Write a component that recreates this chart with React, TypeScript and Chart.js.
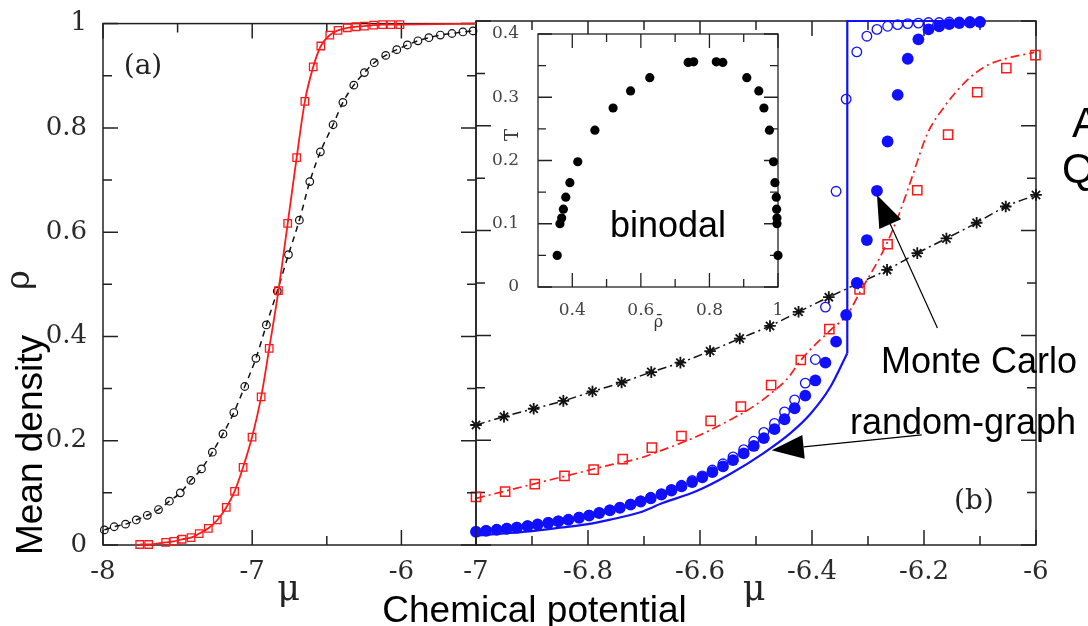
import React, { useEffect, useRef } from "react";
import { Chart, registerables } from "chart.js";

Chart.register(...registerables);

const W = 1088;
const H = 626;

// ---------- Panel (a) ----------
const aSquareMu = [-7.754, -7.694, -7.58, -7.525, -7.47, -7.41, -7.355, -7.294, -7.234, -7.174, -7.118, -7.061, -7.001, -6.94, -6.886, -6.824, -6.762, -6.702, -6.647, -6.591, -6.54, -6.48, -6.425, -6.363, -6.305, -6.248, -6.186, -6.126, -6.07, -6.01];
const aSquareRho = [0.001, 0.001, 0.005, 0.007, 0.011, 0.014, 0.022, 0.032, 0.048, 0.072, 0.103, 0.149, 0.207, 0.284, 0.377, 0.488, 0.617, 0.743, 0.851, 0.917, 0.957, 0.978, 0.987, 0.992, 0.994, 0.995, 0.997, 0.998, 0.998, 0.998];
const aLineExtMu = [-6.01, -5.5];
const aLineExtRho = [0.998, 1.0];
const aCircleMu = [-7.991, -7.925, -7.849, -7.777, -7.703, -7.628, -7.555, -7.482, -7.411, -7.34, -7.267, -7.196, -7.123, -7.05, -6.975, -6.905, -6.832, -6.757, -6.684, -6.614, -6.543, -6.458, -6.392, -6.319, -6.248, -6.182, -6.105, -6.031, -5.96, -5.889, -5.816, -5.739, -5.661, -5.588, -5.52];
const aCircleRho = [0.029, 0.035, 0.04, 0.048, 0.057, 0.068, 0.084, 0.1, 0.124, 0.146, 0.178, 0.213, 0.254, 0.304, 0.358, 0.422, 0.487, 0.557, 0.623, 0.697, 0.754, 0.806, 0.849, 0.882, 0.906, 0.925, 0.939, 0.95, 0.959, 0.967, 0.973, 0.978, 0.981, 0.984, 0.986];

// ---------- Panel (b) ----------
const bStarMu = [-7.0, -6.95, -6.897, -6.844, -6.792, -6.74, -6.687, -6.635, -6.582, -6.529, -6.475, -6.424, -6.37, -6.318, -6.266, -6.212, -6.16, -6.106, -6.054, -6.0];
const bStarRho = [0.229, 0.245, 0.26, 0.275, 0.293, 0.31, 0.33, 0.348, 0.37, 0.394, 0.418, 0.445, 0.473, 0.499, 0.525, 0.557, 0.585, 0.615, 0.646, 0.668];
const bSquareMu = [-7.0, -6.948, -6.895, -6.842, -6.79, -6.738, -6.686, -6.633, -6.581, -6.527, -6.473, -6.42, -6.369, -6.315, -6.265, -6.212, -6.157, -6.105, -6.053, -6.001];
const bSquareRho = [0.092, 0.102, 0.116, 0.132, 0.144, 0.164, 0.186, 0.208, 0.237, 0.264, 0.305, 0.353, 0.412, 0.488, 0.574, 0.677, 0.783, 0.864, 0.91, 0.935];
const bRedLineMu = [-7.0, -6.94, -6.88, -6.82, -6.76, -6.71, -6.675, -6.606, -6.553, -6.505, -6.469, -6.446, -6.415, -6.367, -6.337, -6.312, -6.272, -6.245, -6.221, -6.194, -6.164, -6.14, -6.116, -6.086, -6.051, -6.003];
const bRedLineRho = [0.089, 0.105, 0.121, 0.137, 0.153, 0.165, 0.178, 0.207, 0.235, 0.264, 0.293, 0.315, 0.359, 0.41, 0.44, 0.487, 0.563, 0.63, 0.703, 0.785, 0.836, 0.868, 0.894, 0.916, 0.929, 0.94];
const bBlueMu = [-7.0, -6.982, -6.963, -6.945, -6.927, -6.908, -6.89, -6.871, -6.853, -6.835, -6.816, -6.798, -6.78, -6.761, -6.743, -6.724, -6.706, -6.688, -6.669, -6.651, -6.633, -6.614, -6.596, -6.578, -6.559, -6.541, -6.522, -6.504, -6.486, -6.467, -6.449, -6.431, -6.412, -6.394, -6.376, -6.357, -6.339, -6.32, -6.302, -6.284, -6.265, -6.247, -6.229, -6.21, -6.192, -6.173, -6.155, -6.137, -6.118, -6.1];
const bBlueFilledRho = [0.025, 0.027, 0.029, 0.031, 0.033, 0.036, 0.039, 0.042, 0.045, 0.048, 0.052, 0.056, 0.061, 0.066, 0.071, 0.077, 0.083, 0.089, 0.096, 0.104, 0.112, 0.12, 0.129, 0.139, 0.15, 0.162, 0.175, 0.189, 0.204, 0.221, 0.24, 0.261, 0.285, 0.314, 0.348, 0.388, 0.439, 0.5, 0.582, 0.676, 0.77, 0.859, 0.928, 0.965, 0.984, 0.99, 0.994, 0.996, 0.997, 0.998];
const bBlueOpenRho = [0.026, 0.028, 0.03, 0.032, 0.034, 0.037, 0.04, 0.043, 0.046, 0.049, 0.053, 0.057, 0.062, 0.067, 0.072, 0.078, 0.084, 0.091, 0.098, 0.106, 0.114, 0.123, 0.132, 0.143, 0.155, 0.168, 0.182, 0.198, 0.215, 0.232, 0.254, 0.277, 0.309, 0.354, 0.454, 0.675, 0.851, 0.941, 0.971, 0.984, 0.99, 0.993, 0.995, 0.996, 0.997, 0.997, 0.998, 0.998, 0.999, 0.999];
const bBlueLineMu = [-7.0, -6.95, -6.905, -6.85, -6.8, -6.762, -6.708, -6.667, -6.606, -6.547, -6.487, -6.439, -6.403, -6.367, -6.337];
const bBlueLineRho = [0.018, 0.022, 0.026, 0.033, 0.04, 0.048, 0.062, 0.08, 0.103, 0.135, 0.175, 0.213, 0.25, 0.302, 0.366];
const bBlueJumpMu = [-6.337, -6.337, -6.1];
const bBlueJumpRho = [0.366, 1.0, 1.0];

// annotation arrows (data coordinates of panel b)
const arrowFromMu = [-6.176, -6.204];
const arrowFromRho = [0.414, 0.21];
const arrowToMu = [-6.284, -6.472];
const arrowToRho = [0.668, 0.181];

// ---------- Inset (binodal) ----------
const insetRho = [0.356, 0.364, 0.369, 0.374, 0.381, 0.393, 0.416, 0.466, 0.519, 0.57, 0.626, 0.738, 0.754, 0.82, 0.839, 0.909, 0.944, 0.959, 0.975, 0.987, 0.991, 0.995, 0.996, 0.997, 0.997, 1.0];
const insetT = [0.05, 0.1, 0.109, 0.123, 0.142, 0.165, 0.198, 0.248, 0.283, 0.31, 0.331, 0.355, 0.356, 0.356, 0.355, 0.331, 0.31, 0.283, 0.248, 0.198, 0.165, 0.142, 0.123, 0.109, 0.1, 0.05];

// ---------- ticks ----------
const aXTicks = [-8, -7, -6];
const aXMinor = [-7.5, -6.5];
const bXTicks = [-7, -6.8, -6.6, -6.4, -6.2, -6];
const bXMinor = [-6.9, -6.7, -6.5, -6.3, -6.1];
const yTicks = [0, 0.2, 0.4, 0.6, 0.8, 1];
const yMinor = [0.1, 0.3, 0.5, 0.7, 0.9];
const insetXTicks = [0.4, 0.6, 0.8, 1];
const insetXMinor = [0.5, 0.7, 0.9];
const insetYTicks = [0, 0.1, 0.2, 0.3, 0.4];
const insetYMinor = [0.05, 0.15, 0.25, 0.35];

const pts = (xs: number[], ys: number[]) => xs.map((x, i) => ({ x, y: ys[i] }));

const RED = "#ff1a1a";
const BLUE = "#1010ff";
const TICK_FONT = { family: "DejaVu Serif", size: 26 };

function frameTicksPlugin(cfg: any) {
  return {
    id: "frameTicks",
    beforeDraw(chart: any) {
      if (!cfg.fill) return;
      const { ctx, chartArea: a } = chart;
      ctx.save();
      ctx.fillStyle = "#fff";
      ctx.fillRect(a.left, a.top, a.right - a.left, a.bottom - a.top);
      ctx.restore();
    },
    beforeDatasetsDraw(chart: any) {
      const { ctx, chartArea: a } = chart;
      const xs = chart.scales.x;
      const ys = chart.scales.y;
      ctx.save();
      ctx.strokeStyle = "#222";
      ctx.lineWidth = cfg.lw;
      ctx.beginPath();
      const vx = (vals: number[], len: number) => {
        for (const v of vals) {
          const p = xs.getPixelForValue(v);
          ctx.moveTo(p, a.bottom);
          ctx.lineTo(p, a.bottom - len);
          ctx.moveTo(p, a.top);
          ctx.lineTo(p, a.top + len);
        }
      };
      const vy = (vals: number[], len: number) => {
        for (const v of vals) {
          const p = ys.getPixelForValue(v);
          ctx.moveTo(a.left, p);
          ctx.lineTo(a.left + len, p);
          ctx.moveTo(a.right, p);
          ctx.lineTo(a.right - len, p);
        }
      };
      vx(cfg.xMajor, cfg.major);
      vx(cfg.xMinor, cfg.minor);
      vy(cfg.yMajor, cfg.major);
      vy(cfg.yMinor, cfg.minor);
      ctx.stroke();
      ctx.strokeRect(a.left, a.top, a.right - a.left, a.bottom - a.top);
      ctx.restore();
    },
  };
}

function arrowPlugin() {
  return {
    id: "arrows",
    afterDatasetsDraw(chart: any) {
      const xs = chart.scales.x;
      const ys = chart.scales.y;
      const ctx = chart.ctx;
      ctx.save();
      for (let i = 0; i < arrowFromMu.length; i++) {
        const x0 = xs.getPixelForValue(arrowFromMu[i]);
        const y0 = ys.getPixelForValue(arrowFromRho[i]);
        const x1 = xs.getPixelForValue(arrowToMu[i]);
        const y1 = ys.getPixelForValue(arrowToRho[i]);
        const ang = Math.atan2(y1 - y0, x1 - x0);
        const L = 32;
        const hw = 12;
        const bx = x1 - L * Math.cos(ang);
        const by = y1 - L * Math.sin(ang);
        ctx.strokeStyle = "#000";
        ctx.lineWidth = 1.2;
        ctx.beginPath();
        ctx.moveTo(x0, y0);
        ctx.lineTo(bx, by);
        ctx.stroke();
        ctx.fillStyle = "#000";
        ctx.beginPath();
        ctx.moveTo(x1, y1);
        ctx.lineTo(bx + hw * Math.sin(ang), by - hw * Math.cos(ang));
        ctx.lineTo(bx - hw * Math.sin(ang), by + hw * Math.cos(ang));
        ctx.closePath();
        ctx.fill();
      }
      ctx.restore();
    },
  };
}

function baseOptions(opts: any) {
  return {
    responsive: false,
    animation: false,
    events: [],
    layout: { padding: opts.padding },
    plugins: { legend: { display: false }, tooltip: { enabled: false } },
    scales: {
      x: {
        type: "linear",
        position: "bottom",
        min: opts.xMin,
        max: opts.xMax,
        grid: { display: false },
        border: { display: false },
        afterBuildTicks: (s: any) => {
          s.ticks = opts.xTicks.map((v: number) => ({ value: v }));
        },
        afterFit: (s: any) => {
          s.height = opts.xHeight;
        },
        ticks: {
          display: true,
          padding: opts.xPad,
          color: opts.tickColor,
          font: opts.font,
          maxRotation: 0,
          autoSkip: false,
          callback: (v: any) => String(v),
        },
      },
      y: {
        type: "linear",
        min: opts.yMin,
        max: opts.yMax,
        grid: { display: false },
        border: { display: false },
        afterBuildTicks: (s: any) => {
          s.ticks = opts.yTicks.map((v: number) => ({ value: v }));
        },
        afterFit: (s: any) => {
          s.width = opts.yWidth;
        },
        ticks: {
          display: opts.yLabels,
          padding: opts.yPad,
          color: opts.tickColor,
          font: opts.font,
          autoSkip: false,
          callback: (v: any) => String(v),
        },
      },
    },
  };
}

function configA(): any {
  return {
    type: "scatter",
    data: {
      datasets: [
        {
          data: pts(aSquareMu, aSquareRho),
          showLine: true,
          cubicInterpolationMode: "monotone",
          borderColor: RED,
          borderWidth: 1.8,
          pointStyle: "rect",
          pointRadius: 5.3,
          pointBorderWidth: 1.3,
          pointBackgroundColor: "rgba(0,0,0,0)",
          clip: false,
          order: 1,
        },
        {
          data: pts(aLineExtMu, aLineExtRho),
          showLine: true,
          borderColor: RED,
          borderWidth: 1.8,
          pointRadius: 0,
          clip: false,
          order: 2,
        },
        {
          data: pts(aCircleMu, aCircleRho),
          showLine: true,
          cubicInterpolationMode: "monotone",
          borderColor: "#111",
          borderWidth: 1.5,
          borderDash: [6, 5],
          pointStyle: "circle",
          pointRadius: 3.8,
          pointBorderWidth: 1.2,
          pointBackgroundColor: "rgba(0,0,0,0)",
          clip: false,
          order: 3,
        },
      ],
    },
    options: baseOptions({
      padding: { left: 0, right: W - 476, top: 21, bottom: 0 },
      xMin: -8,
      xMax: -5.5,
      yMin: 0,
      yMax: 1,
      xTicks: aXTicks,
      yTicks: yTicks,
      xHeight: H - 545,
      yWidth: 103,
      xPad: 4,
      yPad: 8,
      yLabels: true,
      tickColor: "#2a2a2a",
      font: TICK_FONT,
    }),
    plugins: [
      frameTicksPlugin({ xMajor: aXTicks, xMinor: aXMinor, yMajor: yTicks, yMinor: yMinor, major: 15, minor: 9, lw: 1.5 }),
    ],
  };
}

function configB(): any {
  return {
    type: "scatter",
    data: {
      datasets: [
        {
          data: pts(bBlueMu, bBlueFilledRho),
          pointStyle: "circle",
          pointRadius: 5.9,
          pointBorderWidth: 0,
          pointBackgroundColor: BLUE,
          borderColor: BLUE,
          clip: false,
          order: 1,
        },
        {
          data: pts(bBlueMu, bBlueOpenRho),
          pointStyle: "circle",
          pointRadius: 4.8,
          pointBorderWidth: 1.3,
          pointBackgroundColor: "rgba(255,255,255,0)",
          borderColor: BLUE,
          clip: false,
          order: 2,
        },
        {
          data: pts(bSquareMu, bSquareRho),
          pointStyle: "rect",
          pointRadius: 6.5,
          pointBorderWidth: 1.5,
          pointBackgroundColor: "rgba(0,0,0,0)",
          borderColor: RED,
          clip: false,
          order: 3,
        },
        {
          data: pts(bRedLineMu, bRedLineRho),
          showLine: true,
          cubicInterpolationMode: "monotone",
          borderColor: RED,
          borderWidth: 1.7,
          borderDash: [9, 4, 2, 4],
          pointRadius: 0,
          clip: false,
          order: 4,
        },
        {
          data: pts(bStarMu, bStarRho),
          showLine: true,
          cubicInterpolationMode: "monotone",
          borderColor: "#111",
          borderWidth: 1.5,
          borderDash: [9, 4, 2, 4],
          pointStyle: "star",
          pointRadius: 5.8,
          pointBorderWidth: 1.8,
          clip: false,
          order: 5,
        },
        {
          data: pts(bBlueLineMu, bBlueLineRho),
          showLine: true,
          cubicInterpolationMode: "monotone",
          borderColor: BLUE,
          borderWidth: 2.2,
          pointRadius: 0,
          clip: false,
          order: 6,
        },
        {
          data: pts(bBlueJumpMu, bBlueJumpRho),
          showLine: true,
          borderColor: BLUE,
          borderWidth: 2.2,
          pointRadius: 0,
          clip: false,
          order: 7,
        },
      ],
    },
    options: baseOptions({
      padding: { left: 0, right: W - 1036, top: 21, bottom: 0 },
      xMin: -7,
      xMax: -6,
      yMin: 0,
      yMax: 1,
      xTicks: bXTicks,
      yTicks: yTicks,
      xHeight: H - 545,
      yWidth: 476,
      xPad: 4,
      yPad: 8,
      yLabels: false,
      tickColor: "#2a2a2a",
      font: TICK_FONT,
    }),
    plugins: [
      frameTicksPlugin({ xMajor: bXTicks, xMinor: bXMinor, yMajor: yTicks, yMinor: yMinor, major: 15, minor: 9, lw: 1.5 }),
      arrowPlugin(),
    ],
  };
}

function configInset(): any {
  return {
    type: "scatter",
    data: {
      datasets: [
        {
          data: pts(insetRho, insetT),
          pointStyle: "circle",
          pointRadius: 4.6,
          pointBorderWidth: 0,
          pointBackgroundColor: "#000",
          borderColor: "#000",
          clip: false,
        },
      ],
    },
    options: baseOptions({
      padding: { left: 0, right: W - 778, top: 34, bottom: 0 },
      xMin: 0.3,
      xMax: 1,
      yMin: 0,
      yMax: 0.4,
      xTicks: insetXTicks,
      yTicks: insetYTicks,
      xHeight: H - 287,
      yWidth: 538,
      xPad: 5,
      yPad: 11,
      yLabels: true,
      tickColor: "#444",
      font: { family: "DejaVu Serif", size: 17 },
    }),
    plugins: [
      frameTicksPlugin({ xMajor: insetXTicks, xMinor: insetXMinor, yMajor: insetYTicks, yMinor: insetYMinor, major: 14, minor: 8, lw: 1.3, fill: true }),
    ],
  };
}

function ChartCanvas({ make }: { make: () => any }) {
  const ref = useRef<HTMLCanvasElement | null>(null);
  useEffect(() => {
    if (!ref.current) return;
    const chart = new Chart(ref.current, make());
    return () => chart.destroy();
  }, [make]);
  return (
    <canvas
      ref={ref}
      width={W}
      height={H}
      style={{ position: "absolute", left: 0, top: 0, width: W, height: H }}
    />
  );
}

function Label(props: any) {
  const { x, y, text, family, size, rotate, anchor, color } = props;
  const tr =
    anchor === "left"
      ? "translate(0,-50%)"
      : "translate(-50%,-50%)" + (rotate ? " rotate(-90deg)" : "");
  return (
    <div
      style={{
        position: "absolute",
        left: x,
        top: y,
        transform: tr,
        fontFamily: family,
        fontSize: size,
        lineHeight: 1,
        whiteSpace: "nowrap",
        color: color || "#000",
      }}
    >
      {text}
    </div>
  );
}

const SANS = "'Liberation Sans', Arial, sans-serif";
const SERIF = "'DejaVu Serif', serif";

export default function App() {
  return (
    <div
      style={{
        position: "fixed",
        left: 0,
        top: 0,
        width: W,
        height: H,
        overflow: "hidden",
        background: "#fff",
      }}
    >
      <ChartCanvas make={configB} />
      <ChartCanvas make={configA} />
      <ChartCanvas make={configInset} />
      <Label x={143} y={65} text="(a)" family={SERIF} size={28} color="#222" />
      <Label x={974} y={500} text="(b)" family={SERIF} size={28} color="#222" />
      <Label x={17} y={280} text="ρ" family={SERIF} size={34} rotate color="#222" />
      <Label x={288.5} y={588} text="μ" family={SERIF} size={35} color="#222" />
      <Label x={754} y={588} text="μ" family={SERIF} size={35} color="#222" />
      <Label x={512} y={135} text="T" family={SERIF} size={18} rotate color="#333" />
      <Label x={658.5} y={321.5} text="ρ̄" family={SERIF} size={16} color="#333" />
      <Label x={28.7} y={445} text="Mean density" family={SANS} size={37} rotate />
      <Label x={534.5} y={608.5} text="Chemical potential" family={SANS} size={37} />
      <Label x={610} y={224.5} text="binodal" family={SANS} size={36} anchor="left" />
      <Label x={881} y={361.3} text="Monte Carlo" family={SANS} size={36} anchor="left" />
      <Label x={850} y={421.5} text="random-graph" family={SANS} size={36} anchor="left" />
      <Label x={1072} y={122.5} text="A" family={SANS} size={42} anchor="left" />
      <Label x={1062} y={168.5} text="Q" family={SANS} size={42} anchor="left" />
    </div>
  );
}
